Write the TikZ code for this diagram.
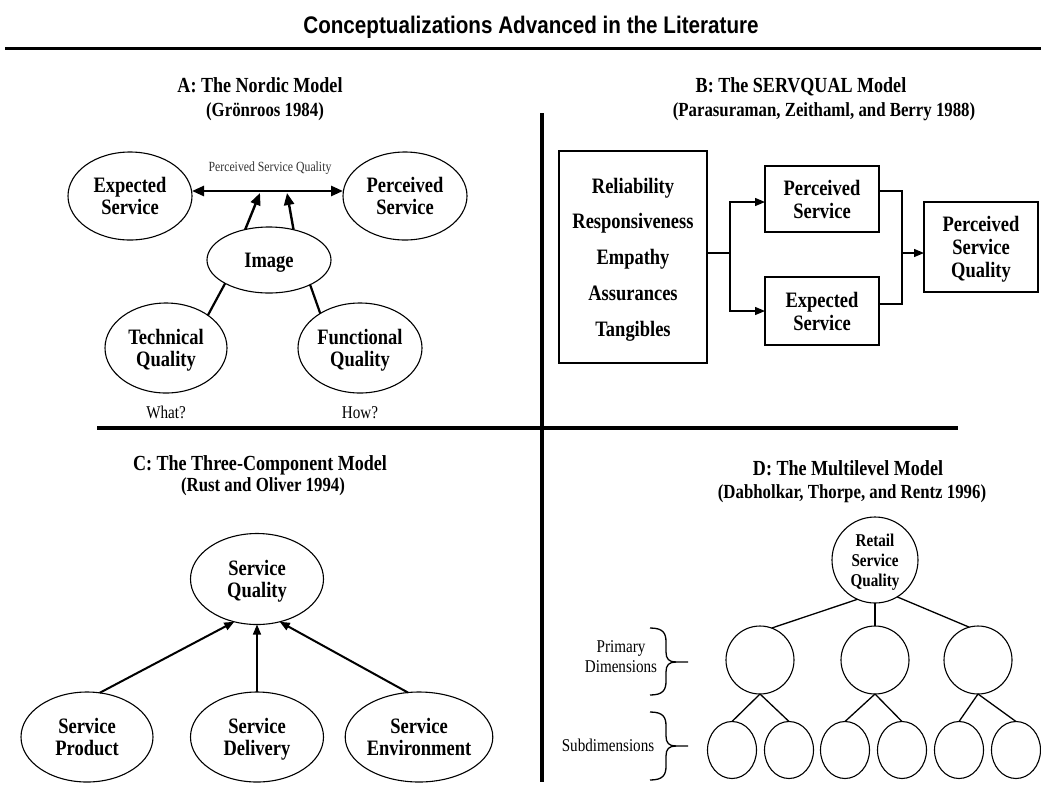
\documentclass[tikz,border=0pt]{standalone}
\usepackage{fontspec}
\setmainfont{Liberation Serif}[FakeStretch=0.84]
\newfontfamily\titlefont{Liberation Sans}[FakeStretch=0.86]
\usetikzlibrary{shapes.geometric,arrows.meta}

\begin{document}
\begin{tikzpicture}[x=1pt,y=-1pt,
  every node/.style={inner sep=0pt, outer sep=0pt},
  oval/.style={draw, ellipse, line width=1.1pt, align=center,
    font=\fontsize{22}{22}\selectfont\bfseries, text depth=0pt},
  box/.style={draw, rectangle, line width=1.1pt, align=center,
    font=\fontsize{22}{23}\selectfont\bfseries, text depth=0pt},
  ring/.style={draw, circle, line width=1.1pt, minimum size=68pt},
  leaf/.style={draw, ellipse, line width=1.1pt, minimum width=49pt, minimum height=57pt},
  heading/.style={font=\fontsize{21.5}{24}\selectfont\bfseries, anchor=base},
  citation/.style={font=\fontsize{20}{22}\selectfont\bfseries, anchor=base},
  note/.style={font=\fontsize{18}{20}\selectfont, align=center},
  divider/.style={line width=3.5pt},
  link/.style={line width=1.3pt},
  boldlink/.style={line width=2.2pt},
  fatarrow/.style={line width=2.4pt, -{Triangle[length=12pt,width=10pt]}},
  midarrow/.style={line width=2pt, -{Triangle[length=10pt,width=8pt]}},
  thinarrow/.style={line width=1.3pt, -{Triangle[length=10pt,width=8pt]}},
  bracepath/.style={line width=1.3pt}
]
\useasboundingbox[fill=white] (0,0) rectangle (1041,807);

% ---- title and frame lines ----
\node[anchor=base] (title) at (531,33) {\titlefont\fontsize{24}{28}\selectfont\bfseries Conceptualizations Advanced in the Literature};
\draw[divider, line width=3pt] (5,48) -- (1041,48);
\draw[divider] (542,113) -- (542,782);
\draw[divider] (97,428) -- (958,428);

% ---- A: Nordic model ----
\node[heading] (ha) at (260,92) {A: The Nordic Model};
\node[citation] (ca) at (265,116) {(Grönroos 1984)};

\node[oval, minimum width=124pt, minimum height=88pt] (exp) at (130,196) {Expected\\Service};
\node[oval, minimum width=124pt, minimum height=88pt] (per) at (405,196) {Perceived\\Service};
\node[oval, minimum width=124pt, minimum height=66pt] (img) at (269,260) {Image};
\node[oval, minimum width=122pt, minimum height=90pt] (tec) at (166,348) {Technical\\Quality};
\node[oval, minimum width=124pt, minimum height=90pt] (fun) at (360,348) {Functional\\Quality};

\node[font=\fontsize{14}{15}\selectfont, text=black!80] (psqlabel) at (270,168) {Perceived Service Quality};
\draw[line width=2.6pt, {Triangle[length=12pt,width=10pt]}-{Triangle[length=12pt,width=10pt]}]
  ([yshift=5pt]exp.east) -- ([yshift=5pt]per.west);
\coordinate (t1) at (260,193);
\coordinate (t2) at (287,193);
\draw[fatarrow] (img.128) -- (t1);
\draw[fatarrow] (img.51) -- (t2);
\draw[boldlink] (img.208) -- (tec.38);
\draw[boldlink] (img.329) -- (fun.139);

\node[font=\fontsize{18}{20}\selectfont, anchor=base] (what) at (166,418) {What?};
\node[font=\fontsize{18}{20}\selectfont, anchor=base] (how) at (360,418) {How?};

% ---- B: SERVQUAL model ----
\node[heading] (hb) at (801,92) {B: The SERVQUAL Model};
\node[citation] (cb) at (824,116) {(Parasuraman, Zeithaml, and Berry 1988)};

\node[box, minimum width=148pt, minimum height=212pt, font=\fontsize{22}{35.7}\selectfont\bfseries]
  (dims) at (633,257) {Reliability\\Responsiveness\\Empathy\\Assurances\\Tangibles};
\node[box, minimum width=114pt, minimum height=66pt] (ps) at (822,199) {Perceived\\Service};
\node[box, minimum width=114pt, minimum height=68pt] (es) at (822,311) {Expected\\Service};
\node[box, minimum width=114pt, minimum height=90pt] (psq) at (981,247) {Perceived\\Service\\Quality};

\coordinate (j1) at (730,253);
\coordinate (j2) at (902,253);
\draw[link] ([yshift=4pt]dims.east) -- (j1);
\draw[thinarrow] (j1) |- ([yshift=-3pt]ps.west);
\draw[thinarrow] (j1) |- (es.west);
\draw[link] ([yshift=8pt]ps.east) -| (j2) |- ([yshift=7pt]es.east);
\draw[thinarrow] (j2) -- (j2 -| psq.west);

% ---- C: Three-component model ----
\node[heading] (hc) at (260,470) {C: The Three-Component Model};
\node[citation] (cc) at (263,491) {(Rust and Oliver 1994)};

\node[oval, minimum width=133pt, minimum height=91pt] (sq) at (257,579) {Service\\Quality};
\node[oval, minimum width=132pt, minimum height=90pt] (spr) at (87,737) {Service\\Product};
\node[oval, minimum width=133pt, minimum height=90pt] (sde) at (257,737) {Service\\Delivery};
\node[oval, minimum width=132pt, minimum height=90pt] (sen) at (419,737) {Service\\Environment};

\draw[midarrow] (spr.74) -- (sq.242.5);
\draw[thinarrow] (sde.north) -- (sq.south);
\draw[midarrow] (sen.104) -- (sq.298.5);

% ---- D: Multilevel model ----
\node[heading] (hd) at (848,475) {D: The Multilevel Model};
\node[citation] (cd) at (852,498) {(Dabholkar, Thorpe, and Rentz 1996)};

\node[draw, circle, line width=1.1pt, minimum size=86pt, align=center, text depth=0pt,
  font=\fontsize{18}{20}\selectfont\bfseries] (root) at (875,560) {Retail\\Service\\Quality};
\node[ring] (p1) at (760,660) {};
\node[ring] (p2) at (875,660) {};
\node[ring] (p3) at (978,660) {};
\node[leaf] (s1) at (732,750) {};
\node[leaf] (s2) at (789,750) {};
\node[leaf] (s3) at (845,750) {};
\node[leaf] (s4) at (902,750) {};
\node[leaf] (s5) at (959,750) {};
\node[leaf] (s6) at (1016,750) {};

\draw[link] (root.246) -- (p1.70);
\draw[link] (root.south) -- (p2.north);
\draw[link] (root.301) -- (p3.105);
\draw[link] (p1.south) -- (s1.north);
\draw[link] (p1.south) -- (s2.north);
\draw[link] (p2.south) -- (s3.north);
\draw[link] (p2.south) -- (s4.north);
\draw[link] (p3.south) -- (s5.north);
\draw[link] (p3.south) -- (s6.north);

\node[note] (prim) at (621,657) {Primary\\Dimensions};
\node[note] (subd) at (608,745) {Subdimensions};

% curly braces beside the level labels
\foreach \top/\mid/\bot in {628/662/695, 712/746/780} {
  \draw[bracepath]
    (650,\top) .. controls (663,\top) and (666,\top+5) .. (666,\top+14)
    -- (666,\mid-10) .. controls (666,\mid-3) and (669,\mid) .. (676,\mid)
    -- (688,\mid);
  \draw[bracepath]
    (676,\mid) .. controls (669,\mid) and (666,\mid+3) .. (666,\mid+10)
    -- (666,\bot-14) .. controls (666,\bot-5) and (663,\bot) .. (650,\bot);
}
\end{tikzpicture}
\end{document}
